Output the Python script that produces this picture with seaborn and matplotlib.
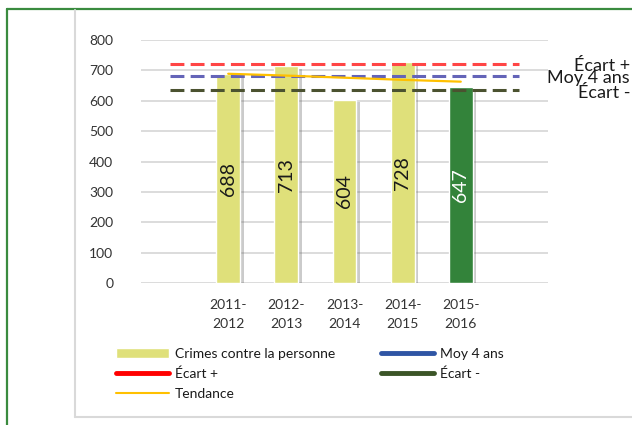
import matplotlib
matplotlib.use("Agg")
import matplotlib.pyplot as plt
import matplotlib.patheffects as pe
from matplotlib.lines import Line2D
from matplotlib.patches import Patch
import seaborn as sns

# Données
saisons = ["2011-\n2012", "2012-\n2013", "2013-\n2014", "2014-\n2015", "2015-\n2016"]
crimes = [688, 713, 604, 728, 647]
tendance = [689, 683, 676, 669, 663]
moy_4_ans = 683
ecart_plus = 721
ecart_moins = 637

jaune = "#DFE07A"
vert = "#33833A"
bar_colors = [jaune, jaune, jaune, jaune, vert]

sns.set_theme(style="white")
plt.rcParams["font.family"] = ["Lato", "DejaVu Sans"]
plt.rcParams["lines.scale_dashes"] = False

W, H = 632, 425
fig = plt.figure(figsize=(W / 100, H / 100), dpi=100)
ax = fig.add_axes([141 / W, 1 - 283.3 / H, (548 - 141) / W, (283.3 - 40) / H])

# barres
sns.barplot(x=saisons, y=crimes, hue=saisons, palette=bar_colors, legend=False,
            width=0.41, saturation=1, ax=ax, zorder=2)
for p in ax.patches:
    p.set_path_effects([pe.SimplePatchShadow(offset=(2.5, -1.5), shadow_rgbFace="#555555", alpha=0.3),
                        pe.Normal()])

for i, v in enumerate(crimes):
    ax.text(i, v / 2, str(v), rotation=90, ha="center", va="center", fontsize=14,
            color="white" if bar_colors[i] == vert else "#1a1a1a", zorder=5)

# lignes de référence (de la catégorie vide à gauche à celle de droite)
x_span = [-1, len(saisons)]
ax.plot(x_span, [ecart_plus] * 2, color="#FF4545", lw=2.2, dashes=(10, 4.5), zorder=3)
ax.plot(x_span, [moy_4_ans] * 2, color="#6464B8", lw=2.2, dashes=(10, 4.5), zorder=3)
ax.plot(x_span, [ecart_moins] * 2, color="#4B5230", lw=2.2, dashes=(10, 4.5), zorder=3)
ax.plot(range(len(saisons)), tendance, color="#FFC000", lw=1.6, zorder=4)

ax.set_xlim(-1.5, len(saisons) + 0.5)
ax.set_ylim(0, 800)
ax.set_yticks(range(0, 801, 100))
ax.set_xticks(range(len(saisons)))
ax.set_xticklabels(saisons, linespacing=1.7)
ax.tick_params(axis="y", length=0, pad=20, labelsize=10, labelcolor="#333333")
ax.tick_params(axis="x", length=0, pad=11, labelsize=10, labelcolor="#333333")
ax.yaxis.grid(True, color="#D9D9D9", lw=1.3)
ax.xaxis.grid(False)
ax.set_axisbelow(True)
for s in ax.spines.values():
    s.set_visible(False)
ax.set_xlabel("")
ax.set_ylabel("")

# étiquettes à droite des lignes
fig.text(630 / W, 1 - 66 / H, "Écart +", ha="right", va="center", fontsize=13, color="#1a1a1a")
fig.text(630 / W, 1 - 78 / H, "Moy 4 ans", ha="right", va="center", fontsize=13, color="#1a1a1a")
fig.text(630 / W, 1 - 93 / H, "Écart -", ha="right", va="center", fontsize=13, color="#1a1a1a")

# légende
handles = [
    Patch(facecolor=jaune),
    Line2D([], [], color="#FF0000", lw=3.5, solid_capstyle="round"),
    Line2D([], [], color="#FFC000", lw=1.5),
    Line2D([], [], color="#2F55A4", lw=3.5, solid_capstyle="round"),
    Line2D([], [], color="#3B5527", lw=3.5, solid_capstyle="round"),
]
labels = ["Crimes contre la personne", "Écart +", "Tendance", "Moy 4 ans", "Écart -"]
fig.legend(handles, labels, ncol=2, loc="upper left", bbox_to_anchor=(116 / W, 1 - 348 / H),
           frameon=False, fontsize=10, handlelength=3.8, handletextpad=0.45,
           columnspacing=3.3, labelspacing=0.55, borderpad=0, borderaxespad=0,
           labelcolor="#1a1a1a")

# cadres (vert extérieur, gris intérieur)
fig.add_artist(Line2D([7 / W, 7 / W], [0, 1 - 9 / H], color="#3A8B3F", lw=1.6))
fig.add_artist(Line2D([7 / W, 1], [1 - 9 / H, 1 - 9 / H], color="#3A8B3F", lw=1.6))
fig.add_artist(Line2D([75 / W, 75 / W], [1 - 417 / H, 1 - 10 / H], color="#D9D9D9", lw=1.5))
fig.add_artist(Line2D([75 / W, 1], [1 - 417 / H, 1 - 417 / H], color="#D9D9D9", lw=1.5))

fig.savefig("out.png", dpi=100)
